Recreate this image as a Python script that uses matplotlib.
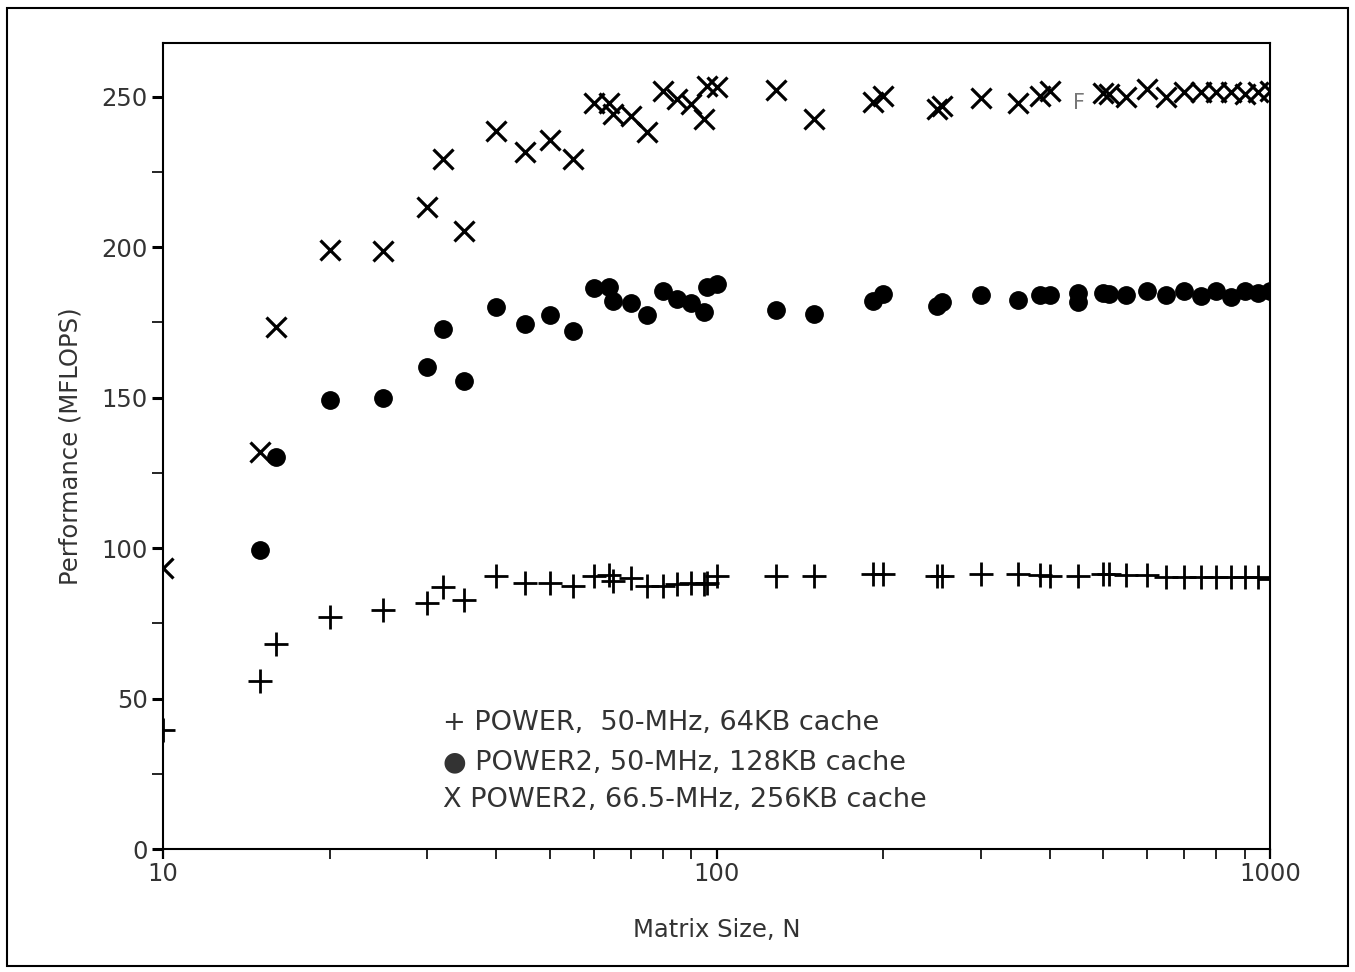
import matplotlib
matplotlib.use('Agg')
import matplotlib.pyplot as plt
from matplotlib.ticker import MultipleLocator, LogLocator, FuncFormatter, NullFormatter
from matplotlib.patches import Rectangle

# Tamanos de matriz y rendimiento (MFLOPS)
n_power = [10, 15, 16, 20, 25, 30, 32, 35, 40, 45, 50, 55, 60, 64, 65, 70, 75, 80, 85, 90,
           95, 96, 100, 128, 150, 192, 200, 250, 256, 300, 350, 384, 400, 450, 500, 512, 550,
           600, 650, 700, 750, 800, 850, 900, 950, 1000]
mflops_power = [39.5, 55.9, 68.0, 77.1, 79.3, 81.9, 86.9, 82.7, 90.8, 88.5, 88.5, 87.4, 90.8,
                91.0, 89.0, 90.2, 87.4, 87.4, 88.0, 88.5, 88.0, 88.5, 90.8, 90.8, 90.8, 91.3,
                91.3, 90.8, 90.8, 91.3, 91.3, 91.0, 90.8, 90.8, 91.3, 91.3, 91.0, 91.0, 90.5,
                90.5, 90.5, 90.5, 90.5, 90.5, 90.5, 89.8]

n_power2_50 = [15, 16, 20, 25, 30, 32, 35, 40, 45, 50, 55, 60, 64, 65, 70, 75, 80, 85, 90, 95,
               96, 100, 128, 150, 192, 200, 250, 256, 300, 350, 384, 400, 450, 450, 500, 512,
               550, 600, 650, 700, 750, 800, 850, 900, 950, 1000]
mflops_power2_50 = [99.4, 130.3, 149.3, 149.8, 160.0, 172.8, 155.5, 180.2, 174.3, 177.4, 172.2,
                    186.4, 186.6, 182.2, 181.4, 177.4, 185.3, 182.7, 181.4, 178.5, 186.6, 187.7,
                    179.0, 177.8, 182.2, 184.4, 180.5, 181.6, 184.2, 182.4, 184.2, 184.2, 184.6,
                    181.6, 184.9, 184.4, 184.1, 185.3, 184.1, 185.5, 183.8, 185.3, 183.3, 185.5,
                    184.9, 185.5]

n_power2_66 = [10, 15, 16, 20, 25, 30, 32, 35, 40, 45, 50, 55, 60, 64, 65, 70, 75, 80, 85, 90,
               95, 96, 100, 128, 150, 192, 200, 250, 256, 300, 350, 384, 400, 500, 512, 550,
               600, 650, 700, 750, 800, 850, 900, 950, 1000]
mflops_power2_66 = [93.5, 132.0, 173.5, 199.0, 198.6, 213.3, 229.4, 205.3, 238.6, 231.6, 235.7,
                    229.4, 248.0, 248.0, 244.2, 243.6, 238.2, 251.8, 249.2, 247.6, 242.6, 253.4,
                    253.1, 252.2, 242.6, 248.3, 250.3, 246.0, 246.8, 249.5, 248.0, 250.2, 251.8,
                    251.2, 250.8, 249.8, 252.5, 249.8, 251.4, 251.4, 251.4, 251.4, 250.9, 251.4,
                    252.0]

leyenda = ['+ POWER,  50-MHz, 64KB cache',
           '\u25cf POWER2, 50-MHz, 128KB cache',
           'X POWER2, 66.5-MHz, 256KB cache']


def main():
    fig = plt.figure(figsize=(13.55, 9.72), dpi=100)
    W, H = 1355.0, 972.0

    # ejes en pixeles: x 163..1270, y 43..849
    ax = fig.add_axes([163 / W, 1 - 849 / H, (1270 - 163) / W, (849 - 43) / H])

    ax.plot(n_power, mflops_power, linestyle='none', marker='+', markersize=17,
            markeredgewidth=2.0, color='black')
    ax.plot(n_power2_50, mflops_power2_50, linestyle='none', marker='o', markersize=12.5,
            color='black')
    ax.plot(n_power2_66, mflops_power2_66, linestyle='none', marker='x', markersize=14,
            markeredgewidth=2.3, color='black')

    # artefacto gris que aparece en la figura original
    ax.text(452, 248.0, 'F', fontsize=15, color='#777777', ha='center', va='center')

    ax.set_xscale('log')
    ax.set_xlim(10, 1000)
    ax.set_ylim(0, 267.8)

    ax.xaxis.set_major_locator(LogLocator(base=10))
    ax.xaxis.set_minor_locator(LogLocator(base=10, subs=range(2, 10)))
    ax.xaxis.set_major_formatter(FuncFormatter(lambda v, p: '%d' % v))
    ax.xaxis.set_minor_formatter(NullFormatter())
    ax.yaxis.set_major_locator(MultipleLocator(50))
    ax.yaxis.set_minor_locator(MultipleLocator(25))

    ax.tick_params(axis='y', which='major', direction='out', length=8, width=2.2,
                   labelsize=17.5, pad=3, colors='black', labelcolor='#333333')
    ax.tick_params(axis='y', which='minor', direction='out', length=8, width=1.2)
    ax.tick_params(axis='x', which='major', direction='out', length=7.5, width=1.6,
                   labelsize=17.5, pad=1.5, labelcolor='#333333')
    ax.tick_params(axis='x', which='minor', direction='out', length=7.5, width=1.2)

    for sp in ax.spines.values():
        sp.set_linewidth(1.5)

    ax.set_xlabel('Matrix Size, N', fontsize=17.5, color='#333333', va='top')
    ax.xaxis.set_label_coords(0.5, -0.086)
    ax.set_ylabel('Performance (MFLOPS)', fontsize=17.5, color='#333333')
    ax.yaxis.set_label_coords(-0.073, 0.5)

    # leyenda escrita como texto dentro de los ejes
    for txt, yy in zip(leyenda, [0.1563, 0.1079, 0.0608]):
        ax.text(0.253, yy, txt, transform=ax.transAxes, fontsize=19.5, color='#333333',
                ha='left', va='center')

    # marco exterior de la figura
    fig.patches.append(Rectangle((7 / W, 1 - 966 / H), (1348 - 7) / W, (966 - 8) / H,
                                 transform=fig.transFigure, fill=False, edgecolor='black',
                                 linewidth=1.5))

    fig.savefig('out.png', dpi=100)


if __name__ == '__main__':
    main()
